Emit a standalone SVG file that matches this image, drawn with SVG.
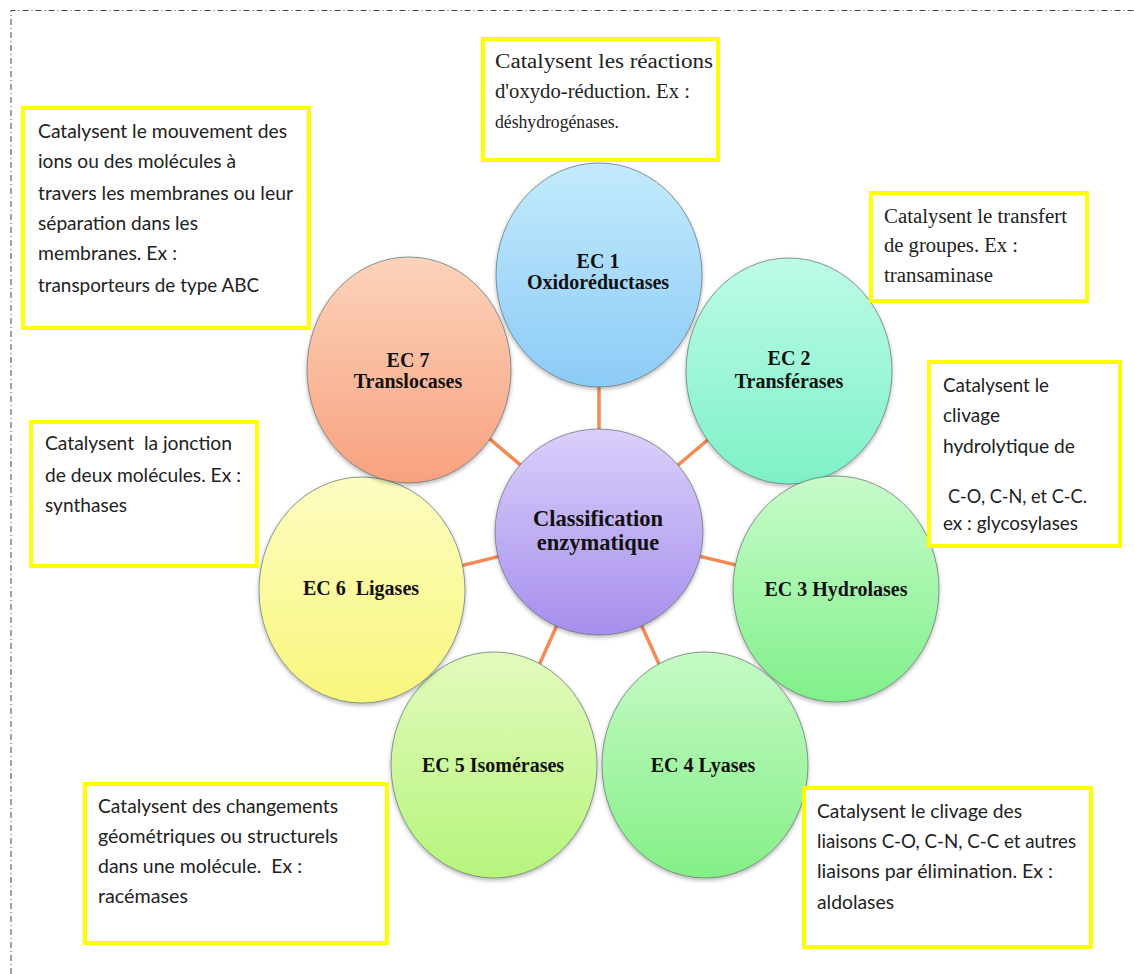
<svg xmlns="http://www.w3.org/2000/svg" width="1134" height="974" viewBox="0 0 1134 974">
<defs>
<linearGradient id="gC" x1="0" y1="0" x2="0" y2="1"><stop offset="0" stop-color="#dccffb"/><stop offset="1" stop-color="#a58eec"/></linearGradient>
<linearGradient id="g1" x1="0" y1="0" x2="0" y2="1"><stop offset="0" stop-color="#c3eafc"/><stop offset="1" stop-color="#8ccbf7"/></linearGradient>
<linearGradient id="g2" x1="0" y1="0" x2="0" y2="1"><stop offset="0" stop-color="#bdfbe8"/><stop offset="1" stop-color="#7ef1c6"/></linearGradient>
<linearGradient id="g3" x1="0" y1="0" x2="0" y2="1"><stop offset="0" stop-color="#c8fbcb"/><stop offset="1" stop-color="#80f08a"/></linearGradient>
<linearGradient id="g4" x1="0" y1="0" x2="0" y2="1"><stop offset="0" stop-color="#c6fac6"/><stop offset="1" stop-color="#84ef86"/></linearGradient>
<linearGradient id="g5" x1="0" y1="0" x2="0" y2="1"><stop offset="0" stop-color="#e3fbbd"/><stop offset="1" stop-color="#b6f47c"/></linearGradient>
<linearGradient id="g6" x1="0" y1="0" x2="0" y2="1"><stop offset="0" stop-color="#fdfdc2"/><stop offset="1" stop-color="#f8f67c"/></linearGradient>
<linearGradient id="g7" x1="0" y1="0" x2="0" y2="1"><stop offset="0" stop-color="#fcd3bb"/><stop offset="1" stop-color="#f8a17f"/></linearGradient>
<filter id="sh" x="-10%" y="-10%" width="120%" height="125%"><feDropShadow dx="0" dy="2" stdDeviation="2" flood-color="#000" flood-opacity="0.3"/></filter>
</defs>
<style>
.ell{stroke:#5f6f6f;stroke-opacity:0.7;stroke-width:1;filter:url(#sh)}
.lbl{font-family:"Liberation Serif","Times New Roman",serif;font-weight:bold;font-size:20px;fill:#111;text-anchor:middle}
.big{font-size:22.5px}
.box{fill:#fff;stroke:#ffff00;stroke-width:4}
.ts{font-family:"Liberation Serif","Times New Roman",serif;font-size:20px;fill:#222}
.tc{font-family:Lato,"Open Sans",sans-serif;font-size:19px;fill:#222}
.conn{stroke:#f58a55;stroke-width:3.5}
.border{fill:none;stroke:#444;stroke-width:1;stroke-dasharray:6 3 1 3}
</style>
<path class="border" d="M11 974 V10.5 H1134"/>
<g id="connectors">
<line class="conn" x1="599" y1="532" x2="599" y2="276"/>
<line class="conn" x1="599" y1="532" x2="789" y2="371"/>
<line class="conn" x1="599" y1="532" x2="836" y2="589"/>
<line class="conn" x1="599" y1="532" x2="705" y2="765"/>
<line class="conn" x1="599" y1="532" x2="494" y2="765"/>
<line class="conn" x1="599" y1="532" x2="362" y2="590"/>
<line class="conn" x1="599" y1="532" x2="409" y2="370"/>
</g>
<g id="ec1"><ellipse class="ell" cx="599" cy="275" rx="103" ry="112" fill="url(#g1)"/><text class="lbl" x="598" y="268">EC 1</text><text class="lbl" x="598" y="289">Oxidoréductases</text></g>
<g id="ec2"><ellipse class="ell" cx="789" cy="371" rx="103" ry="113" fill="url(#g2)"/><text class="lbl" x="789" y="365">EC 2</text><text class="lbl" x="789" y="388">Transférases</text></g>
<g id="ec3"><ellipse class="ell" cx="836" cy="589" rx="103" ry="113" fill="url(#g3)"/><text class="lbl" x="836" y="596">EC 3 Hydrolases</text></g>
<g id="ec4"><ellipse class="ell" cx="705" cy="765" rx="103" ry="113" fill="url(#g4)"/><text class="lbl" x="703" y="772">EC 4 Lyases</text></g>
<g id="ec5"><ellipse class="ell" cx="494" cy="765" rx="103" ry="113" fill="url(#g5)"/><text class="lbl" x="493" y="772">EC 5 Isomérases</text></g>
<g id="ec6"><ellipse class="ell" cx="362" cy="590" rx="103" ry="113" fill="url(#g6)"/><text class="lbl" x="361" y="595" xml:space="preserve">EC 6  Ligases</text></g>
<g id="ec7"><ellipse class="ell" cx="409" cy="370" rx="102" ry="113" fill="url(#g7)"/><text class="lbl" x="408" y="367">EC 7</text><text class="lbl" x="408" y="388">Translocases</text></g>
<g id="center"><ellipse class="ell" cx="599" cy="532" rx="104" ry="103" fill="url(#gC)"/><text class="lbl big" x="598" y="526">Classification</text><text class="lbl big" x="598" y="550">enzymatique</text></g>

<g id="box-ec1"><rect class="box" x="483" y="39" width="235" height="121"/>
<text class="ts" x="495" y="68" textLength="218" lengthAdjust="spacingAndGlyphs">Catalysent les réactions</text>
<text class="ts" x="495" y="98" textLength="195" lengthAdjust="spacingAndGlyphs">d'oxydo-réduction. Ex :</text>
<text class="ts" x="495" y="128" textLength="124" lengthAdjust="spacingAndGlyphs" style="font-size:19px">déshydrogénases.</text></g>

<g id="box-ec7"><rect class="box" x="23" y="108" width="286" height="220"/>
<text class="tc" x="38" y="138" textLength="249" lengthAdjust="spacingAndGlyphs">Catalysent le mouvement des</text>
<text class="tc" x="38" y="168" textLength="198" lengthAdjust="spacingAndGlyphs">ions ou des molécules à</text>
<text class="tc" x="38" y="200" textLength="255" lengthAdjust="spacingAndGlyphs">travers les membranes ou leur</text>
<text class="tc" x="38" y="230" textLength="160" lengthAdjust="spacingAndGlyphs">séparation dans les</text>
<text class="tc" x="38" y="260" textLength="139" lengthAdjust="spacingAndGlyphs">membranes. Ex :</text>
<text class="tc" x="38" y="292" textLength="221" lengthAdjust="spacingAndGlyphs">transporteurs de type ABC</text></g>

<g id="box-ec2"><rect class="box" x="871" y="193" width="216" height="108"/>
<text class="ts" x="884" y="223" textLength="183" lengthAdjust="spacingAndGlyphs">Catalysent le transfert</text>
<text class="ts" x="884" y="252" textLength="134" lengthAdjust="spacingAndGlyphs">de groupes. Ex :</text>
<text class="ts" x="884" y="282" textLength="109" lengthAdjust="spacingAndGlyphs">transaminase</text></g>

<g id="box-ec3"><rect class="box" x="929" y="362" width="191" height="184"/>
<text class="tc" x="943" y="392" textLength="106" lengthAdjust="spacingAndGlyphs">Catalysent le</text>
<text class="tc" x="943" y="422" textLength="57" lengthAdjust="spacingAndGlyphs">clivage</text>
<text class="tc" x="943" y="453" textLength="132" lengthAdjust="spacingAndGlyphs">hydrolytique de</text>
<text class="tc" x="948" y="503" textLength="139" lengthAdjust="spacingAndGlyphs">C-O, C-N, et C-C.</text>
<text class="tc" x="943" y="530" textLength="135" lengthAdjust="spacingAndGlyphs">ex : glycosylases</text></g>

<g id="box-ec6"><rect class="box" x="31" y="422" width="226" height="144"/>
<text class="tc" x="45" y="450" textLength="187" lengthAdjust="spacingAndGlyphs" xml:space="preserve">Catalysent  la jonction</text>
<text class="tc" x="45" y="482" textLength="196" lengthAdjust="spacingAndGlyphs">de deux molécules. Ex :</text>
<text class="tc" x="45" y="512" textLength="82" lengthAdjust="spacingAndGlyphs">synthases</text></g>

<g id="box-ec5"><rect class="box" x="85" y="784" width="302" height="159"/>
<text class="tc" x="98" y="813" textLength="240" lengthAdjust="spacingAndGlyphs">Catalysent des changements</text>
<text class="tc" x="98" y="843" textLength="240" lengthAdjust="spacingAndGlyphs">géométriques ou structurels</text>
<text class="tc" x="98" y="873" textLength="204" lengthAdjust="spacingAndGlyphs" xml:space="preserve">dans une molécule.  Ex :</text>
<text class="tc" x="98" y="903" textLength="90" lengthAdjust="spacingAndGlyphs">racémases</text></g>

<g id="box-ec4"><rect class="box" x="804" y="788" width="287" height="159"/>
<text class="tc" x="817" y="818" textLength="205" lengthAdjust="spacingAndGlyphs">Catalysent le clivage des</text>
<text class="tc" x="817" y="848" textLength="259" lengthAdjust="spacingAndGlyphs">liaisons C-O, C-N, C-C et autres</text>
<text class="tc" x="817" y="878" textLength="236" lengthAdjust="spacingAndGlyphs">liaisons par élimination. Ex :</text>
<text class="tc" x="817" y="909" textLength="77" lengthAdjust="spacingAndGlyphs">aldolases</text></g>
</svg>
